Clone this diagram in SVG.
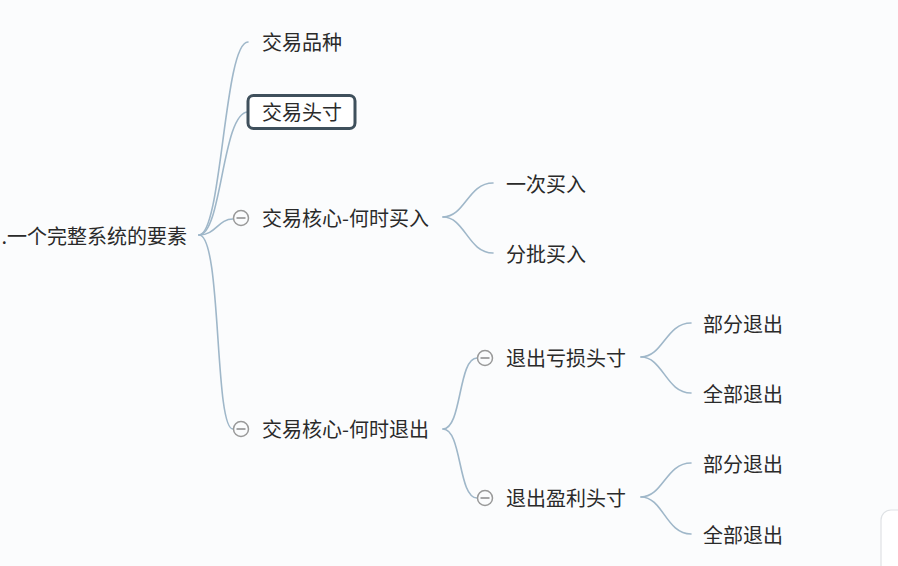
<svg xmlns="http://www.w3.org/2000/svg" width="898" height="566" viewBox="0 0 898 566">
<style>
  text { font-family: "Noto Sans CJK SC", "Microsoft YaHei", sans-serif; font-size: 20px; fill: #2a2a2a; }
  .ln { fill: none; stroke: #9fb7c9; stroke-width: 1.6; stroke-linecap: round; }
  .tg circle { fill: #fbfcfd; stroke: #999999; stroke-width: 1.5; }
  .tg line { stroke: #8a8a8a; stroke-width: 1.5; }
</style>
<defs>
  <g id="toggle" class="tg">
    <circle cx="0" cy="0" r="7.5"/>
    <line x1="-4.5" y1="0" x2="4.5" y2="0"/>
  </g>
</defs>
<rect width="898" height="566" fill="#fbfcfd"/>
<rect x="881" y="510" width="40" height="70" rx="10" fill="#ffffff" stroke="#dfe2e5" stroke-width="1.2"/>

<g id="connectors">
  <path class="ln" d="M199,235 C222,235 224,42 248,42"/>
  <path class="ln" d="M199,235 C222,235 222,112 248,112"/>
  <path class="ln" d="M199,235 C216,235 218,219 233,219"/>
  <path class="ln" d="M199,235 C222,235 214,429 233,429"/>
  <path class="ln" d="M443,217 C465,217 468,183 493,183"/>
  <path class="ln" d="M443,217 C465,217 468,253 493,253"/>
  <path class="ln" d="M443,429 C462,429 458,358 477,358"/>
  <path class="ln" d="M443,429 C462,429 458,498 477,498"/>
  <path class="ln" d="M641,357 C663,357 666,323 691,323"/>
  <path class="ln" d="M641,357 C663,357 666,393 691,393"/>
  <path class="ln" d="M641,497 C663,497 666,463 691,463"/>
  <path class="ln" d="M641,497 C663,497 666,534 691,534"/>
</g>

<g id="root"><text x="187" y="244" text-anchor="end">.一个完整系统的要素</text></g>
<g id="n-pinzhong"><text x="262" y="50">交易品种</text></g>
<g id="n-toucun">
  <rect x="248" y="95.5" width="107" height="33" rx="5.5" fill="#ffffff" stroke="#3f505c" stroke-width="3"/>
  <text x="262" y="120">交易头寸</text>
</g>
<g id="n-mairu">
  <use href="#toggle" x="241" y="218"/>
  <text x="262" y="226">交易核心-何时买入</text>
</g>
<g id="n-yici"><text x="506" y="192">一次买入</text></g>
<g id="n-fenpi"><text x="506" y="262">分批买入</text></g>
<g id="n-tuichu">
  <use href="#toggle" x="241" y="429"/>
  <text x="262" y="437">交易核心-何时退出</text>
</g>
<g id="n-kuisun">
  <use href="#toggle" x="485" y="358"/>
  <text x="506" y="366">退出亏损头寸</text>
</g>
<g id="n-k-bufen"><text x="703" y="332">部分退出</text></g>
<g id="n-k-quanbu"><text x="703" y="402">全部退出</text></g>
<g id="n-yingli">
  <use href="#toggle" x="485" y="498"/>
  <text x="506" y="506">退出盈利头寸</text>
</g>
<g id="n-y-bufen"><text x="703" y="472">部分退出</text></g>
<g id="n-y-quanbu"><text x="703" y="543">全部退出</text></g>
</svg>
